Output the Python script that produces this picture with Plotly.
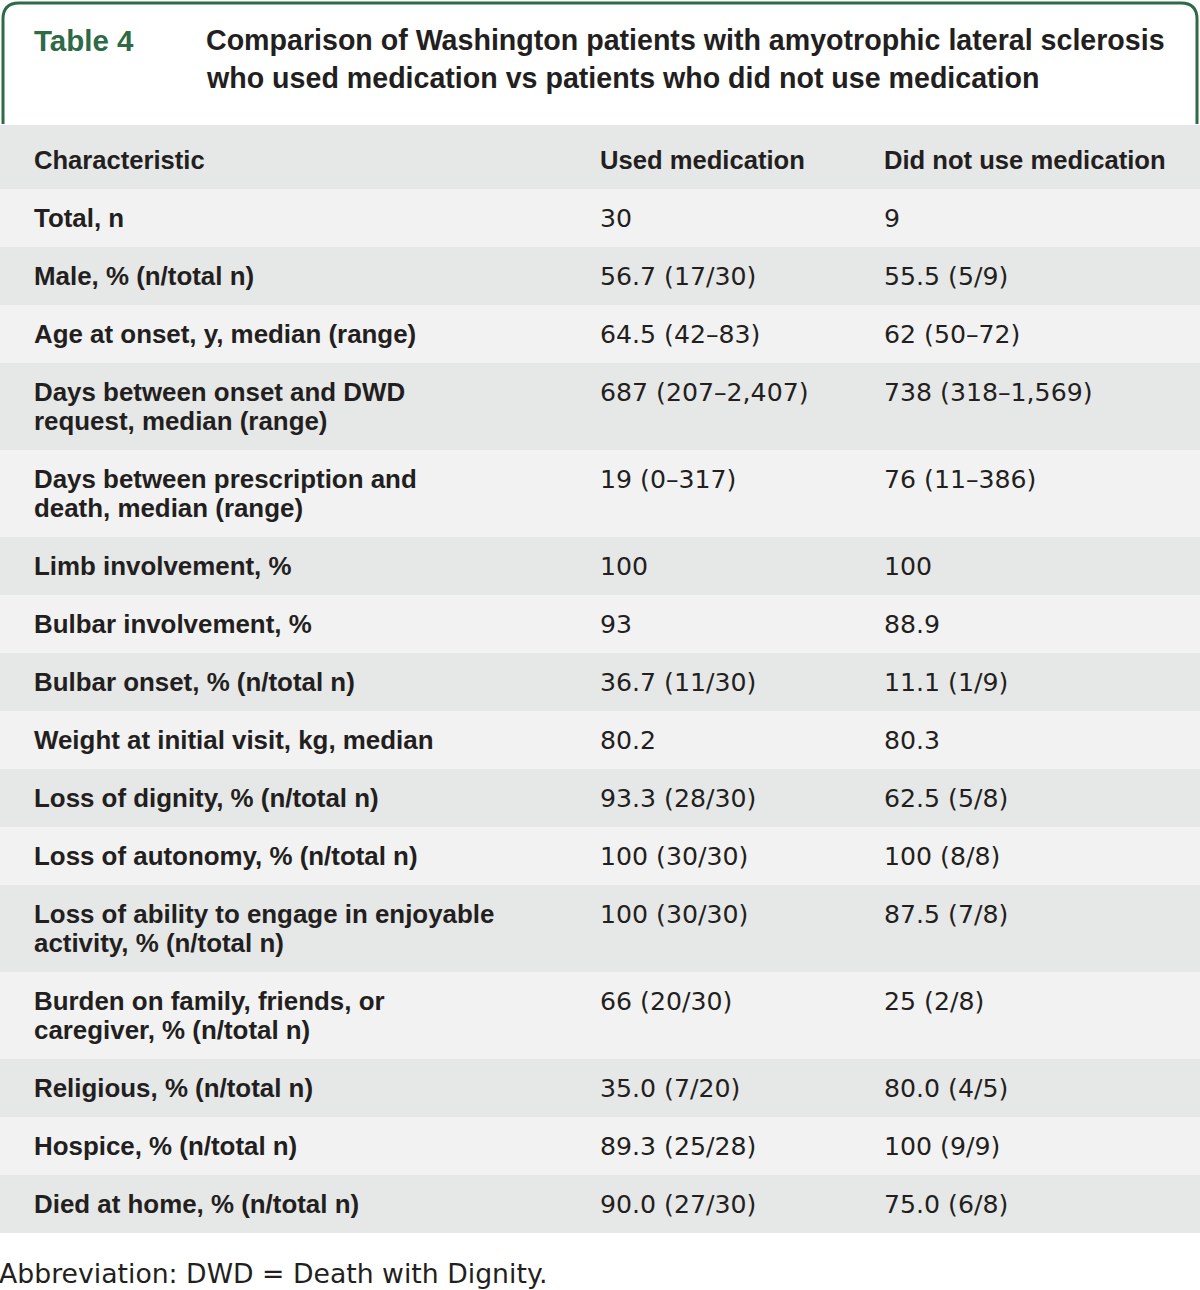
import plotly.graph_objects as go

# ---------------- data ----------------
table_label = "Table 4"
title_lines = [
    "Comparison of Washington patients with amyotrophic lateral sclerosis",
    "who used medication vs patients who did not use medication",
]
headers = ["Characteristic", "Used medication", "Did not use medication"]
characteristics = [
    "Total, n",
    "Male, % (n/total n)",
    "Age at onset, y, median (range)",
    "Days between onset and DWD<br>request, median (range)",
    "Days between prescription and<br>death, median (range)",
    "Limb involvement, %",
    "Bulbar involvement, %",
    "Bulbar onset, % (n/total n)",
    "Weight at initial visit, kg, median",
    "Loss of dignity, % (n/total n)",
    "Loss of autonomy, % (n/total n)",
    "Loss of ability to engage in enjoyable<br>activity, % (n/total n)",
    "Burden on family, friends, or<br>caregiver, % (n/total n)",
    "Religious, % (n/total n)",
    "Hospice, % (n/total n)",
    "Died at home, % (n/total n)",
]
used_medication = [
    "30", "56.7 (17/30)", "64.5 (42–83)", "687 (207–2,407)", "19 (0–317)",
    "100", "93", "36.7 (11/30)", "80.2", "93.3 (28/30)", "100 (30/30)",
    "100 (30/30)", "66 (20/30)", "35.0 (7/20)", "89.3 (25/28)", "90.0 (27/30)",
]
did_not_use = [
    "9", "55.5 (5/9)", "62 (50–72)", "738 (318–1,569)", "76 (11–386)",
    "100", "88.9", "11.1 (1/9)", "80.3", "62.5 (5/8)", "100 (8/8)",
    "87.5 (7/8)", "25 (2/8)", "80.0 (4/5)", "100 (9/9)", "75.0 (6/8)",
]
footnote = "Abbreviation: DWD = Death with Dignity."

# ---------------- style ----------------
W, H = 1200, 1290
GREEN = "#2f6a47"
TEXT = "#231f20"
DARK_BG = "#e6e7e7"
LIGHT_BG = "#f2f2f2"
BOLD_FONT = "Liberation Sans"
REG_FONT = "DejaVu Sans"
col_x = [35, 601, 885]
LINE_H = 29
header_top, header_h = 125, 64

fig = go.Figure()
shapes = []
annos = []

def add_text(x, y, text, size, family, weight, color=TEXT):
    annos.append(dict(x=x, y=y, xref="x", yref="y", text=text, showarrow=False,
                      xanchor="left", yanchor="middle", xshift=-3,
                      font=dict(family=family, size=size, color=color, weight=weight)))

# Title box with rounded top corners (open bottom)
r = 16
bx0, bx1, by0, by1 = 3, 1197, 3, 124
shapes.append(dict(type="path", xref="x", yref="y",
                   path=f"M {bx0},{by1} L {bx0},{by0 + r} Q {bx0},{by0} {bx0 + r},{by0} "
                        f"L {bx1 - r},{by0} Q {bx1},{by0} {bx1},{by0 + r} L {bx1},{by1}",
                   line=dict(color=GREEN, width=3), layer="below"))
add_text(35, 40, table_label, 29.5, BOLD_FONT, 700, GREEN)
for i, t in enumerate(title_lines):
    add_text(207, 40 + 38 * i, t, 28.6, BOLD_FONT, 700)

# Header row
shapes.append(dict(type="rect", xref="x", yref="y", x0=0, x1=W,
                   y0=header_top, y1=header_top + header_h,
                   fillcolor=DARK_BG, line=dict(width=0), layer="below"))
for cx, h in zip(col_x, headers):
    add_text(cx, header_top + header_h / 2 + 3, h, 25.6, BOLD_FONT, 700)

# Body rows
y = header_top + header_h
for i, (c, u, d) in enumerate(zip(characteristics, used_medication, did_not_use)):
    lines = c.split("<br>")
    rh = LINE_H * (len(lines) + 1)
    shapes.append(dict(type="rect", xref="x", yref="y", x0=0, x1=W, y0=y, y1=y + rh,
                       fillcolor=LIGHT_BG if i % 2 == 0 else DARK_BG,
                       line=dict(width=0), layer="below"))
    for k, ln in enumerate(lines):
        add_text(col_x[0], y + LINE_H * (k + 1), ln, 25.9, BOLD_FONT, 700)
    add_text(col_x[1], y + LINE_H, u, 25.2, REG_FONT, 400)
    add_text(col_x[2], y + LINE_H, d, 25.2, REG_FONT, 400)
    y += rh

add_text(0, y + 40, footnote, 26.7, REG_FONT, 400)

fig.update_layout(
    width=W, height=H, margin=dict(l=0, r=0, t=0, b=0),
    paper_bgcolor="white", plot_bgcolor="white",
    xaxis=dict(range=[0, W], visible=False, fixedrange=True),
    yaxis=dict(range=[H, 0], visible=False, fixedrange=True),
    shapes=shapes, annotations=annos, showlegend=False,
)
fig.write_html("out.html", config={"displayModeBar": False},
               post_script="document.body.style.margin='0';")
